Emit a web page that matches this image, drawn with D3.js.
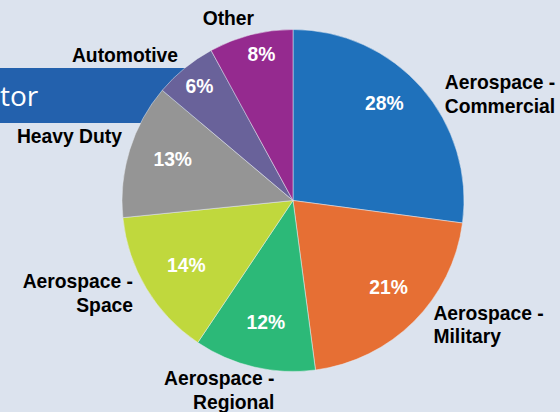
<!DOCTYPE html>
<html>
<head>
    <title>Sector Pie</title>
    <style>
        body { margin: 0; background: #dce3ee; }
        .slice-label {
            font-family: "Liberation Sans", Arial, sans-serif;
            font-weight: bold;
            font-size: 19.3px;
        }
    </style>
</head>
<body>
    <div id="chart"></div>

    <script src="https://d3js.org/d3.v7.min.js"></script>
    <script>
        // Slice data, clockwise from 12 o'clock
        const sectors = ["Aerospace - Commercial", "Aerospace - Military", "Aerospace - Regional",
                         "Aerospace - Space", "Heavy Duty", "Automotive", "Other"];
        const shares = [27.1, 20.8, 11.5, 14.0, 12.75, 5.9, 7.95];
        const pctLabels = ["28%", "21%", "12%", "14%", "13%", "6%", "8%"];
        const nameLines = [["Aerospace -", "Commercial"], ["Aerospace -", "Military"],
                           ["Aerospace -", "Regional"], ["Aerospace -", "Space"],
                           ["Heavy Duty"], ["Automotive"], ["Other"]];
        const colors = ["#1f71bb", "#e66f34", "#2cb978", "#c0d83d", "#959595", "#69629a", "#952a8f"];

        // label placement tweaks (anchor, dx, dy) relative to the outer arc point
        const outerLayout = [
            ["start", 12.6, 10.5], ["start", 9.6, -11.8], ["end", 23.5, 4.4],
            ["end", -1.3, -7.5], ["end", 5.7, -2.6], ["end", 2, 4.8], ["middle", -18.9, 3.7]
        ];
        // small nudges for the percentage labels
        const innerNudge = [[-5, -13], [5, -4], [2, -3], [3, -1], [2, -3], [0, 0], [5, -3]];

        const width = 560, height = 412;
        const cx = 293, cy = 200.5, radius = 171;

        const svg = d3.select("#chart").append("svg")
            .attr("width", width)
            .attr("height", height);

        svg.append("rect")
            .attr("width", width)
            .attr("height", height)
            .attr("fill", "#dce3ee");

        // title banner peeking out behind the pie
        svg.append("rect")
            .attr("x", 0)
            .attr("y", 68)
            .attr("width", 260)
            .attr("height", 55)
            .attr("fill", "#2361ad");

        svg.append("text")
            .attr("x", 0)
            .attr("y", 106)
            .attr("fill", "#fff")
            .style("font-family", "'Open Sans', sans-serif")
            .style("font-size", "28px")
            .text("tor");

        const pie = d3.pie().sort(null).value(d => d)(shares);
        const arc = d3.arc().innerRadius(0).outerRadius(radius);

        const g = svg.append("g")
            .attr("transform", `translate(${cx},${cy})`);

        g.selectAll("path")
            .data(pie)
            .enter()
            .append("path")
            .attr("d", arc)
            .attr("fill", (d, i) => colors[i])
            .attr("stroke", "#e8ecf3")
            .attr("stroke-width", 0.5);

        // percentage labels inside the slices
        g.selectAll(".pct")
            .data(pie)
            .enter()
            .append("text")
            .attr("class", "slice-label pct")
            .attr("fill", "#fff")
            .attr("text-anchor", "middle")
            .attr("transform", (d, i) => {
                const r = d.data < 10 ? 148 : 128;
                const c = d3.arc().innerRadius(r).outerRadius(r).centroid(d);
                return `translate(${c[0] + innerNudge[i][0]},${c[1] + 6.7 + innerNudge[i][1]})`;
            })
            .text((d, i) => pctLabels[i]);

        // category labels outside the pie
        const outerArc = d3.arc().innerRadius(185).outerRadius(185);
        const names = g.selectAll(".name")
            .data(pie)
            .enter()
            .append("text")
            .attr("class", "slice-label name")
            .attr("fill", "#000")
            .attr("text-anchor", (d, i) => outerLayout[i][0])
            .attr("transform", (d, i) => {
                const c = outerArc.centroid(d);
                return `translate(${c[0] + outerLayout[i][1]},${c[1] + outerLayout[i][2]})`;
            });

        names.each(function (d, i) {
            d3.select(this).selectAll("tspan")
                .data(nameLines[i])
                .enter()
                .append("tspan")
                .attr("x", 0)
                .attr("dy", (t, j) => j === 0 ? 0 : 23.5)
                .text(t => t);
        });
    </script>
</body>
</html>
